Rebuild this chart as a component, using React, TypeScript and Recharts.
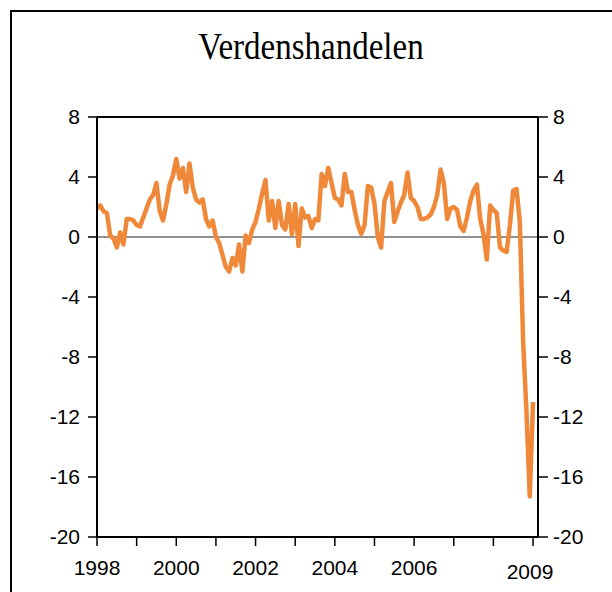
import { LineChart, Line, XAxis, YAxis, ReferenceLine } from "recharts";

// monthly growth values, Jan 1998 .. Jan 2009
const values = [
  1.9, 2.1, 1.7, 1.6, 0.1, -0.1, -0.7, 0.3, -0.5, 1.2, 1.2, 1.1,
  0.8, 0.7, 1.3, 1.9, 2.5, 2.8, 3.6, 1.7, 1.1, 2.2, 3.5, 4.1,
  5.2, 3.9, 4.6, 3.0, 4.9, 3.3, 2.5, 2.3, 2.5, 1.2, 0.7, 1.1,
  0.0, -0.4, -1.2, -2.0, -2.3, -1.4, -1.9, -0.5, -2.3, 0.1, -0.4, 0.5,
  1.0, 1.9, 2.9, 3.8, 1.1, 2.4, 0.6, 2.4, 0.8, 0.5, 2.2, 0.2,
  2.2, -0.6, 1.9, 1.3, 1.4, 0.6, 1.2, 1.1, 4.2, 3.4, 4.6, 3.6,
  2.6, 2.5, 2.1, 4.2, 3.0, 3.0, 1.8, 0.8, 0.2, 0.8, 3.4, 3.3,
  2.2, 0.0, -0.7, 2.4, 3.0, 3.6, 1.0, 1.7, 2.3, 2.8, 4.3, 2.6,
  2.4, 2.0, 1.2, 1.2, 1.3, 1.5, 2.0, 2.8, 4.5, 3.6, 1.2, 1.9,
  2.0, 1.8, 0.7, 0.4, 1.3, 2.4, 3.1, 3.5, 1.2, 0.2, -1.5, 2.1,
  1.8, 1.6, -0.7, -0.9, -1.0, 0.8, 3.1, 3.2, 1.0, -7.0, -11.6, -17.3,
  -11.0,
];
const months = values.map((_, i) => i);
const yearTicks = [0, 12, 24, 36, 48, 60, 72, 84, 96, 108, 120, 132];
const yearLabels: Record<number, string> = {
  0: "1998",
  24: "2000",
  48: "2002",
  72: "2004",
  96: "2006",
  132: "2009",
};
const valueTicks = [-20, -16, -12, -8, -4, 0, 4, 8];

const data = months.map((m, i) => ({ m, v: values[i] }));

const sans = '"Liberation Sans", Arial, sans-serif';

function YearTick(props: any) {
  const { x, y, payload } = props;
  const label = yearLabels[payload.value];
  if (!label) return null;
  const last = payload.value === 132;
  return (
    <text
      x={x + (last ? -3 : 0)}
      y={y + (last ? 3 : -1)}
      dy="0.71em"
      textAnchor="middle"
      fontFamily={sans}
      fontSize={21}
      fill="#000"
    >
      {label}
    </text>
  );
}

export default function App() {
  const tickStyle = { fontFamily: sans, fontSize: 21, fill: "#000" };
  return (
    <div
      style={{
        position: "absolute",
        left: 0,
        top: 0,
        width: 612,
        height: 592,
        overflow: "hidden",
        background: "#fff",
      }}
    >
      <div
        style={{
          position: "absolute",
          left: 10,
          top: 10,
          width: 800,
          height: 800,
          border: "2px solid #000",
        }}
      />
      <div
        style={{
          position: "absolute",
          left: 0,
          top: 30,
          width: 622,
          textAlign: "center",
          fontFamily: '"Liberation Serif", "Times New Roman", serif',
          fontSize: 33,
          lineHeight: "33px",
          color: "#000",
          transform: "scaleY(1.15)",
          transformOrigin: "50% 50%",
        }}
      >
        Verdenshandelen
      </div>
      <div style={{ position: "absolute", left: 0, top: 0 }}>
        <LineChart
          width={612}
          height={592}
          data={data}
          margin={{ top: 117, right: 0, bottom: 0, left: 0 }}
        >
          <XAxis
            dataKey="m"
            type="number"
            domain={[0, 133.5]}
            ticks={yearTicks}
            interval={0}
            height={55}
            tickSize={9}
            tickMargin={15}
            axisLine={{ stroke: "#000", strokeWidth: 2 }}
            tickLine={{ stroke: "#000", strokeWidth: 1.5 }}
            tick={<YearTick />}
          />
          <YAxis
            yAxisId="left"
            domain={[-20, 8]}
            ticks={valueTicks}
            interval={0}
            width={97}
            tickSize={9}
            tickMargin={8}
            axisLine={{ stroke: "#000", strokeWidth: 2 }}
            tickLine={{ stroke: "#000", strokeWidth: 1.5 }}
            tick={tickStyle}
          />
          <YAxis
            yAxisId="right"
            orientation="right"
            domain={[-20, 8]}
            ticks={valueTicks}
            interval={0}
            width={74}
            tickSize={10}
            tickMargin={5}
            axisLine={{ stroke: "#000", strokeWidth: 2 }}
            tickLine={{ stroke: "#000", strokeWidth: 1.5 }}
            tick={tickStyle}
          />
          <ReferenceLine yAxisId="left" y={8} stroke="#000" strokeWidth={2} />
          <ReferenceLine yAxisId="left" y={0} stroke="#222" strokeWidth={1} />
          <Line
            yAxisId="left"
            type="linear"
            dataKey="v"
            stroke="#F0883A"
            strokeWidth={4.5}
            strokeLinejoin="round"
            dot={false}
            isAnimationActive={false}
          />
          <Line
            yAxisId="right"
            type="linear"
            dataKey="v"
            stroke="none"
            dot={false}
            activeDot={false}
            isAnimationActive={false}
          />
        </LineChart>
      </div>
    </div>
  );
}
